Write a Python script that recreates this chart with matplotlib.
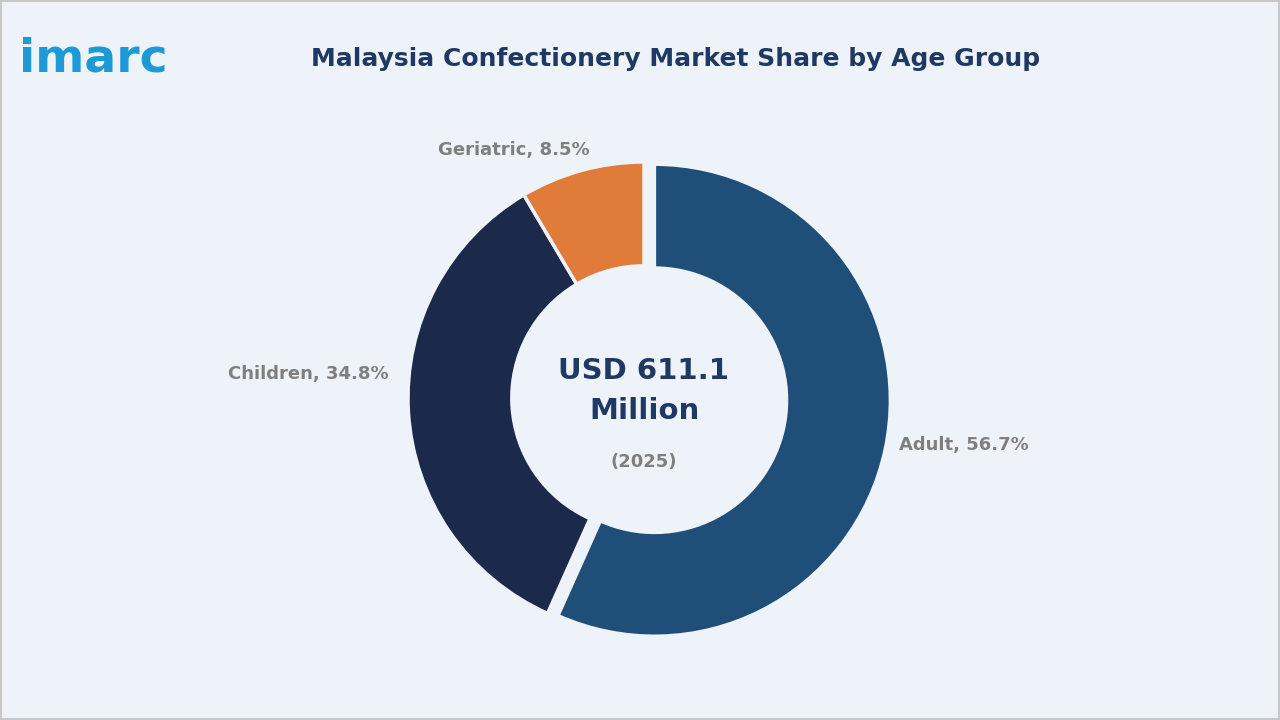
import matplotlib
matplotlib.use("Agg")
import matplotlib.pyplot as plt
from matplotlib.patches import Rectangle

categories = ["Adult", "Children", "Geriatric"]
shares = [56.7, 34.8, 8.5]
colors = ["#1f4e79", "#1b2a4a", "#e07b39"]
center_value = "USD 611.1\nMillion"
center_year = "(2025)"
title = "Malaysia Confectionery Market Share by Age Group"

fig = plt.figure(figsize=(12.8, 7.2), dpi=100)
bg = "#eef3f9"
fig.patch.set_facecolor(bg)
fig.add_artist(Rectangle((0.001, 0.001), 0.998, 0.997, transform=fig.transFigure,
                         fill=False, edgecolor="#c8c8c8", lw=1.5))

r = 236
half = 1.1 * r
ax = fig.add_axes([(644 - half) / 1280, (720 - 398 - half) / 720, 2 * half / 1280, 2 * half / 720])
ax.set_facecolor(bg)

wedges, _ = ax.pie(shares, colors=colors, startangle=90, counterclock=False,
                   explode=[0.045, 0, 0], radius=1.0,
                   wedgeprops=dict(width=0.44, edgecolor=bg, linewidth=2.5))
ax.set_xlim(-1.1, 1.1); ax.set_ylim(-1.1, 1.1); ax.set_aspect("equal"); ax.axis("off")

lab_style = dict(color="#7f7f7f", fontsize=13, fontweight="bold", va="center")
ax.text(1.08, -0.20, f"{categories[0]}, {shares[0]}%", ha="left", **lab_style)
ax.text(-1.08, 0.10, f"{categories[1]}, {shares[1]}%", ha="right", **lab_style)
ax.text(-0.55, 1.05, f"{categories[2]}, {shares[2]}%", ha="center", **lab_style)

ax.text(0, 0.03, center_value, ha="center", va="center", fontsize=21, fontweight="bold",
        color="#1f3864", linespacing=1.55)
ax.text(0, -0.27, center_year, ha="center", va="center", fontsize=13, fontweight="bold",
        color="#7f7f7f")

fig.text(0.528, 0.918, title, ha="center", va="center", fontsize=18, fontweight="bold", color="#203864")
fig.text(0.015, 0.918, "imarc", ha="left", va="center", fontsize=34, fontweight="bold", color="#1d9ad6")

fig.savefig("out.png", dpi=100, facecolor=bg)
